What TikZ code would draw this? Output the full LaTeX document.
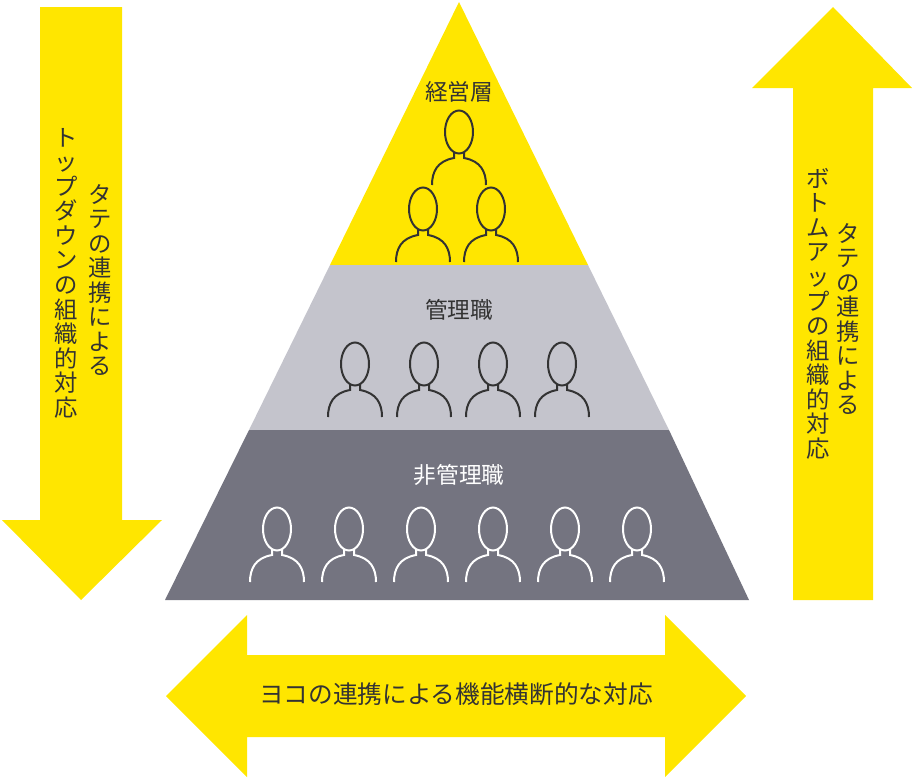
\documentclass[tikz,border=0pt]{standalone}
\usepackage{fontspec}
\setmainfont{Noto Sans CJK JP}
\definecolor{ey yellow}{HTML}{FFE600}
\definecolor{ey light}{HTML}{C4C4CC}
\definecolor{ey dark}{HTML}{747480}
\definecolor{ey line}{HTML}{333333}
\tikzset{
  person/.pic={
    \draw (0,0) ellipse (14 and 21.5);
    \draw (-5,20) -- (-5,26) .. controls (-22,29) and (-27,40) .. (-27,53);
    \draw (5,20) -- (5,26) .. controls (22,29) and (27,40) .. (27,53);
  },
  vtext/.style={anchor=north, align=center, text=ey line, inner sep=0pt,
    font=\fontsize{17.5pt}{18.4pt}\selectfont},
  level label/.style={font=\fontsize{17pt}{19pt}\selectfont},
}
\begin{document}
\begin{tikzpicture}[x=0.75pt, y=-0.75pt]
\useasboundingbox (0,0) rectangle (914,778);

% arrows
\fill[ey yellow] (40,7) -- (122,7) -- (122,520) -- (162,520) -- (81,600) -- (2,520) -- (40,520) -- cycle;
\fill[ey yellow] (793,600) -- (873,600) -- (873,88) -- (912,88) -- (833,7) -- (752,88) -- (793,88) -- cycle;
\fill[ey yellow] (166,696) -- (247,615) -- (247,655) -- (665,655) -- (665,615) -- (746,696)
  -- (665,777) -- (665,737) -- (247,737) -- (247,777) -- cycle;

% pyramid
\fill[ey yellow] (459,2) -- (588,265) -- (330,265) -- cycle;
\fill[ey light] (330,265) -- (588,265) -- (669,430) -- (249,430) -- cycle;
\fill[ey dark] (249,430) -- (669,430) -- (749,600) -- (165,600) -- cycle;

% labels
\node[level label, text=ey line] (top) at (459,92) {経営層};
\node[level label, text=ey line] (mid) at (459,310) {管理職};
\node[level label, text=white] (low) at (459,475) {非管理職};
\node[font=\fontsize{18.5pt}{20pt}\selectfont, text=ey line] (horiz) at (456,694) {ヨコの連携による機能横断的な対応};

\node[vtext] (down1) at (100,184) {タ\\テ\\の\\連\\携\\に\\よ\\る};
\node[vtext] (down2) at (66,128) {ト\\ッ\\プ\\ダ\\ウ\\ン\\の\\組\\織\\的\\対\\応};
\node[vtext] (up1) at (848,223) {タ\\テ\\の\\連\\携\\に\\よ\\る};
\node[vtext] (up2) at (818,168) {ボ\\ト\\ム\\ア\\ッ\\プ\\の\\組\\織\\的\\対\\応};

% people
\begin{scope}[ey line, line width=1.5pt]
\pic at (459,132) {person};
\foreach \x in {423,491} \pic at (\x,209) {person};
\foreach \x in {355,424,493,562} \pic at (\x,364) {person};
\end{scope}
\begin{scope}[white, line width=1.5pt]
\foreach \x in {277,349,421,493,565,637} \pic at (\x,529) {person};
\end{scope}
\end{tikzpicture}
\end{document}
